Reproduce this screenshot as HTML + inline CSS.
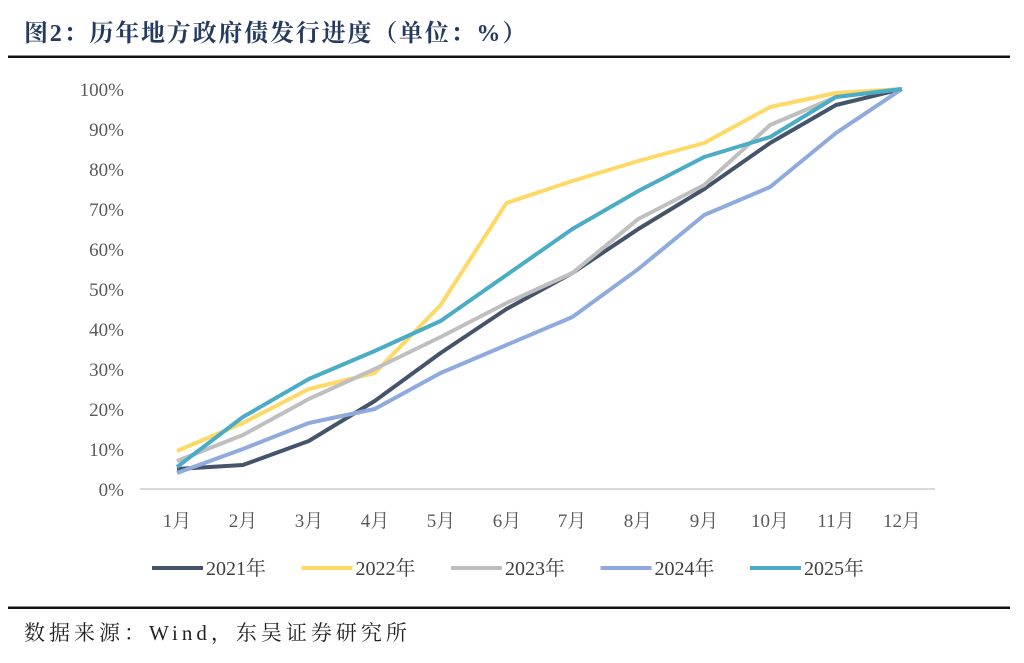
<!DOCTYPE html>
<html><head><meta charset="utf-8"><style>
body{margin:0;width:1024px;height:658px;background:#fff;overflow:hidden}
</style></head><body>
<svg width="1024" height="658" xmlns="http://www.w3.org/2000/svg" font-family="'Liberation Serif','Noto Serif CJK SC',serif">
<text x="24" y="41" font-size="24" font-weight="bold" fill="#243a5e" letter-spacing="1.8">图2：历年地方政府债发行进度（单位：%）</text>
<rect x="8" y="55.5" width="1002" height="2.5" fill="#111"/>
<rect x="8" y="606.5" width="1002" height="2.5" fill="#111"/>
<text x="24" y="640" font-size="21" fill="#222" letter-spacing="4">数据来源：Wind，东吴证券研究所</text>
<g font-size="19" fill="#595959" text-anchor="end">
<text x="124" y="96">100%</text><text x="124" y="136">90%</text><text x="124" y="176">80%</text><text x="124" y="216">70%</text><text x="124" y="256">60%</text><text x="124" y="296">50%</text><text x="124" y="336">40%</text><text x="124" y="376">30%</text><text x="124" y="416">20%</text><text x="124" y="456">10%</text><text x="124" y="496">0%</text>
</g>
<line x1="140" y1="489" x2="935" y2="489" stroke="#d9d9d9" stroke-width="2"/>
<g font-size="19" fill="#595959" text-anchor="middle">
<text x="177" y="527">1月</text><text x="243" y="527">2月</text><text x="309" y="527">3月</text><text x="375" y="527">4月</text><text x="441" y="527">5月</text><text x="507" y="527">6月</text><text x="572" y="527">7月</text><text x="638" y="527">8月</text><text x="704" y="527">9月</text><text x="770" y="527">10月</text><text x="836" y="527">11月</text><text x="902" y="527">12月</text>
</g>
<g fill="none" stroke-width="4" stroke-linejoin="round">
<polyline stroke="#44546a" points="177,469 242.9,465 308.8,441 374.7,401 440.6,353 506.5,309 572.4,273 638.3,229 704.2,189 770.1,143 836,105 901.9,89"/>
<polyline stroke="#ffd966" points="177,451 242.9,423 308.8,389 374.7,373 440.6,305 506.5,203 572.4,181 638.3,161 704.2,143 770.1,107 836,93 901.9,89"/>
<polyline stroke="#bfbfbf" points="177,461 242.9,435 308.8,399 374.7,369 440.6,337 506.5,303 572.4,273 638.3,219 704.2,185 770.1,125 836,97 901.9,89"/>
<polyline stroke="#8faadc" points="177,473 242.9,449 308.8,423 374.7,409 440.6,373 506.5,345 572.4,317 638.3,269 704.2,215 770.1,187 836,133 901.9,89"/>
<polyline stroke="#4bacc6" points="177,467 242.9,417 308.8,379 374.7,351 440.6,321 506.5,275 572.4,229 638.3,191 704.2,157 770.1,137 836,97 901.9,89"/>
</g>
<g font-size="20" fill="#404040">
<line x1="152" y1="568" x2="203" y2="568" stroke="#44546a" stroke-width="4"/><text x="206" y="575">2021年</text>
<line x1="301.5" y1="568" x2="352.5" y2="568" stroke="#ffd966" stroke-width="4"/><text x="355.5" y="575">2022年</text>
<line x1="451" y1="568" x2="502" y2="568" stroke="#bfbfbf" stroke-width="4"/><text x="505" y="575">2023年</text>
<line x1="600.5" y1="568" x2="651.5" y2="568" stroke="#8faadc" stroke-width="4"/><text x="654.5" y="575">2024年</text>
<line x1="750" y1="568" x2="801" y2="568" stroke="#4bacc6" stroke-width="4"/><text x="804" y="575">2025年</text>
</g>
</svg>
</body></html>
